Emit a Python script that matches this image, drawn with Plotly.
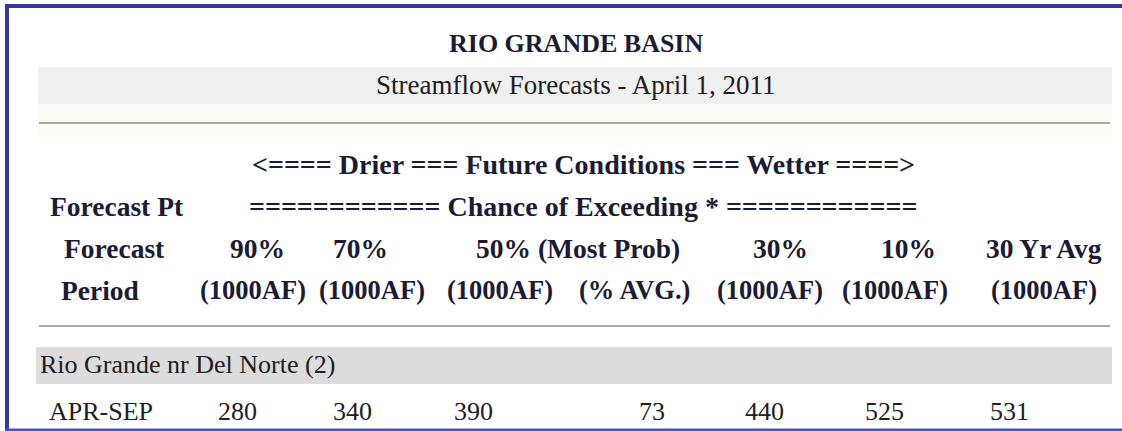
import plotly.graph_objects as go

# ---------------- data ----------------
title_text = "RIO GRANDE BASIN"
subtitle_text = "Streamflow Forecasts - April 1, 2011"
direction_text = "<==== Drier === Future Conditions === Wetter ====>"
chance_text = "============ Chance of Exceeding * ============"
row_label_top = "Forecast Pt"
row_label_mid = "Forecast"
row_label_bot = "Period"
prob_headers = ["90%", "70%", "50% (Most Prob)", "30%", "10%", "30 Yr Avg"]
unit_headers = ["(1000AF)", "(1000AF)", "(1000AF)", "(% AVG.)", "(1000AF)", "(1000AF)", "(1000AF)"]
station_names = ["Rio Grande nr Del Norte (2)"]
forecast_periods = ["APR-SEP"]
forecast_values = [280, 340, 390, 73, 440, 525, 531]

# ---------------- layout positions (pixels) ----------------
W, H = 1122, 431
prob_x = [257, 360, 578, 780, 908, 1044]
unit_x = [253, 372, 500, 634, 770, 895, 1044]
value_x = [237, 352, 473, 652, 764, 884, 1009]

SERIF = "Times New Roman, Liberation Serif, serif"
BOLD_COL = "#1b1b35"
REG_COL = "#202020"

fig = go.Figure()
fig.add_trace(go.Scatter(x=[0, W], y=[0, H], mode="markers",
                         marker=dict(opacity=0), hoverinfo="skip", showlegend=False))

shapes = []
shapes.append(dict(type="rect", xref="x", yref="y", x0=38, x1=1112, y0=104, y1=137,
                   fillcolor="#fdfdf7", line=dict(width=0), layer="below"))
shapes.append(dict(type="rect", xref="x", yref="y", x0=38, x1=1112, y0=67, y1=104,
                   fillcolor="#f0f0f0", line=dict(width=0), layer="below"))
shapes.append(dict(type="line", xref="x", yref="y", x0=39, x1=1110, y0=123, y1=123,
                   line=dict(color="#8e8e86", width=1.6)))
shapes.append(dict(type="line", xref="x", yref="y", x0=39, x1=1110, y0=326, y1=326,
                   line=dict(color="#8e8e86", width=1.6)))
shapes.append(dict(type="rect", xref="x", yref="y", x0=36, x1=1112, y0=347, y1=384,
                   fillcolor="#dcdcdc", line=dict(width=0), layer="below"))
shapes.append(dict(type="rect", xref="x", yref="y", x0=5, x1=W, y0=4, y1=8,
                   fillcolor="#38389c", line=dict(width=0)))
shapes.append(dict(type="rect", xref="x", yref="y", x0=5, x1=9, y0=4, y1=H,
                   fillcolor="#38389c", line=dict(width=0)))
shapes.append(dict(type="rect", xref="x", yref="y", x0=5, x1=W, y0=428.5, y1=H,
                   fillcolor="#5252b0", line=dict(width=0)))

ann = []


def txt(x, y, s, size, bold=False, anchor="center", color=None):
    ann.append(dict(x=x, y=y, xref="x", yref="y", text=f"<b>{s}</b>" if bold else s,
                    showarrow=False, xanchor=anchor, yanchor="middle",
                    font=dict(family=SERIF, size=size,
                              color=color or (BOLD_COL if bold else REG_COL))))


HS = 27.5
txt(576, 43, title_text, 26, bold=True)
txt(575, 85, subtitle_text, 27)
txt(583, 164, direction_text.replace("<", "&lt;").replace(">", "&gt;"), 28, bold=True)
txt(48, 206, row_label_top, HS, bold=True, anchor="left")
txt(583, 206, chance_text, 28, bold=True)
txt(114, 248, row_label_mid, HS, bold=True)
for x, s in zip(prob_x, prob_headers):
    txt(x, 248, s, HS, bold=True)
txt(100, 290, row_label_bot, HS, bold=True)
for x, s in zip(unit_x, unit_headers):
    txt(x, 290, s, 26.5, bold=True)

for name in station_names:
    txt(38, 364, name, 26, anchor="left")
for per in forecast_periods:
    txt(101, 411, per, 26)
    for x, v in zip(value_x, forecast_values):
        txt(x, 411, str(v), 26)

fig.update_layout(
    width=W, height=H, margin=dict(l=0, r=0, t=0, b=0),
    paper_bgcolor="white", plot_bgcolor="white",
    xaxis=dict(range=[0, W], visible=False, fixedrange=True),
    yaxis=dict(range=[H, 0], visible=False, fixedrange=True),
    shapes=shapes, annotations=ann, showlegend=False,
)
fig.write_html("out.html", config=dict(displayModeBar=False),
               post_script="document.body.style.margin='0';document.body.style.overflow='hidden';")
